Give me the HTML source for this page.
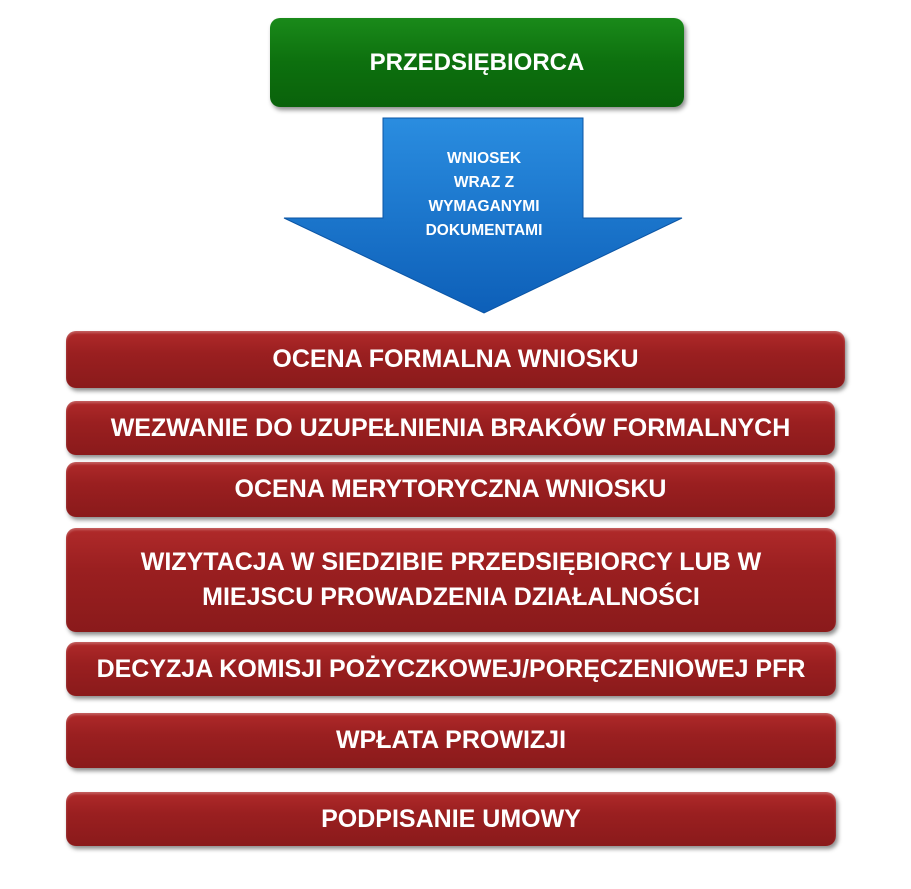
<!DOCTYPE html>
<html><head><meta charset="utf-8"><style>
body{margin:0;width:911px;height:889px;background:#fff;position:relative;overflow:hidden;font-family:"Liberation Sans",sans-serif;font-weight:bold;color:#fff}
.b{position:absolute;display:flex;align-items:center;justify-content:center;text-align:center;border-radius:10px;box-sizing:border-box;line-height:1.4}
.r{left:66px;width:770px;background:linear-gradient(#b02a2a 0%,#9a1f20 40%,#8a1a1b 100%);box-shadow:2px 3px 4px rgba(0,0,0,.45),inset 0 2px 2px rgba(255,255,255,.25);font-size:25px}
</style></head><body>
<div class="b" style="left:270px;top:18px;width:414px;height:89px;background:linear-gradient(#1a8a1a,#0d700e 50%,#0a620b);box-shadow:2px 3px 5px rgba(0,0,0,.45);font-size:24px">PRZEDSIĘBIORCA</div>
<svg style="position:absolute;left:0;top:0" width="911" height="889">
<defs><linearGradient id="g" x1="0" y1="0" x2="0" y2="1"><stop offset="0" stop-color="#2a8de0"/><stop offset="1" stop-color="#0d5fb8"/></linearGradient></defs>
<polygon points="383,118 583,118 583,218 682,218 484,313 284,218 383,218" fill="url(#g)" stroke="#0b55a5" stroke-width="1"/>
<g font-family="Liberation Sans,sans-serif" font-weight="bold" font-size="15.5" fill="#fff" text-anchor="middle">
<text x="484" y="163">WNIOSEK</text><text x="484" y="187">WRAZ Z</text><text x="484" y="211">WYMAGANYMI</text><text x="484" y="235">DOKUMENTAMI</text></g>
</svg>
<div class="b r" style="top:331px;height:57px;width:779px">OCENA FORMALNA WNIOSKU</div>
<div class="b r" style="top:401px;height:54px;width:769px">WEZWANIE DO UZUPEŁNIENIA BRAKÓW FORMALNYCH</div>
<div class="b r" style="top:462px;height:55px;width:769px">OCENA MERYTORYCZNA WNIOSKU</div>
<div class="b r" style="top:528px;height:104px">WIZYTACJA W SIEDZIBIE PRZEDSIĘBIORCY LUB W<br>MIEJSCU PROWADZENIA DZIAŁALNOŚCI</div>
<div class="b r" style="top:642px;height:54px">DECYZJA KOMISJI POŻYCZKOWEJ/PORĘCZENIOWEJ PFR</div>
<div class="b r" style="top:713px;height:55px">WPŁATA PROWIZJI</div>
<div class="b r" style="top:792px;height:54px">PODPISANIE UMOWY</div>
</body></html>
